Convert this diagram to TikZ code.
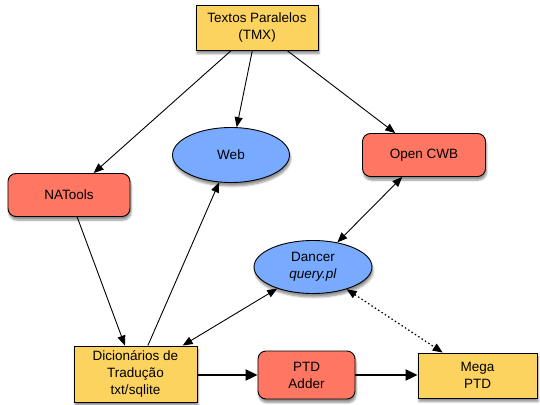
\documentclass[tikz,border=0pt]{standalone}
\usepackage{fontspec}
\setmainfont{Liberation Sans}
\usetikzlibrary{arrows.meta,shapes.geometric,shadows.blur}
\definecolor{boxyellow}{HTML}{FDD35F}
\definecolor{boxred}{HTML}{FF7763}
\definecolor{boxblue}{HTML}{78AAFF}
\tikzset{
  base/.style={draw=black, line width=0.9pt, align=center, inner sep=0pt,
    font=\fontsize{13.5}{17}\selectfont,
    blur shadow={shadow xshift=1pt, shadow yshift=-3.5pt, shadow blur steps=6, shadow opacity=45}},
  ybox/.style={base, rectangle, fill=boxyellow},
  rbox/.style={base, rectangle, rounded corners=8pt, fill=boxred},
  bell/.style={base, ellipse, fill=boxblue},
  conn/.style={line width=0.9pt, -{Triangle[length=10pt,width=8pt]}},
  biconn/.style={line width=0.9pt, {Triangle[length=10pt,width=8pt]}-{Triangle[length=10pt,width=8pt]}},
  dotconn/.style={line width=1.2pt, dash pattern=on 1.5pt off 2.5pt, {Triangle[length=10pt,width=8pt]}-{Triangle[length=10pt,width=8pt]}},
  thickconn/.style={line width=2pt, -{Triangle[length=12pt,width=11pt]}}
}
\begin{document}
\begin{tikzpicture}[x=1pt,y=-1pt]
\useasboundingbox (0,0) rectangle (540,404);
\node[ybox, minimum width=122pt, minimum height=45pt] (tmx) at (257,27.5) {Textos Paralelos\\(TMX)};
\node[rbox, minimum width=122pt, minimum height=43pt] (nat) at (69,195) {NATools};
\node[bell, minimum width=117pt, minimum height=55pt] (web) at (231,155) {Web};
\node[rbox, minimum width=123pt, minimum height=43pt] (cwb) at (424,155) {Open CWB};
\node[bell, minimum width=118pt, minimum height=53pt] (dan) at (313,267) {Dancer\\\textit{query.pl}};
\node[ybox, minimum width=123pt, minimum height=56pt] (dic) at (135.5,374) {Dicionários de\\Tradução\\txt/sqlite};
\node[rbox, minimum width=97pt, minimum height=48pt] (ptd) at (306.5,375) {PTD\\Adder};
\node[ybox, minimum width=119pt, minimum height=45pt] (mega) at (477.5,375.5) {Mega\\PTD};

\draw[conn] (tmx) -- (nat);
\draw[conn] (tmx) -- (web);
\draw[conn] (tmx) -- (cwb);
\draw[conn] (nat) -- (dic);
\draw[conn] (dic) -- (web);
\draw[biconn] (dic) -- (dan);
\draw[biconn] (dan) -- (cwb);
\draw[dotconn] (dan) -- (mega);
\draw[thickconn] (ptd.west -| dic.east) -- (ptd.west);
\draw[thickconn] (ptd.east) -- (ptd.east -| mega.west);
\end{tikzpicture}
\end{document}
